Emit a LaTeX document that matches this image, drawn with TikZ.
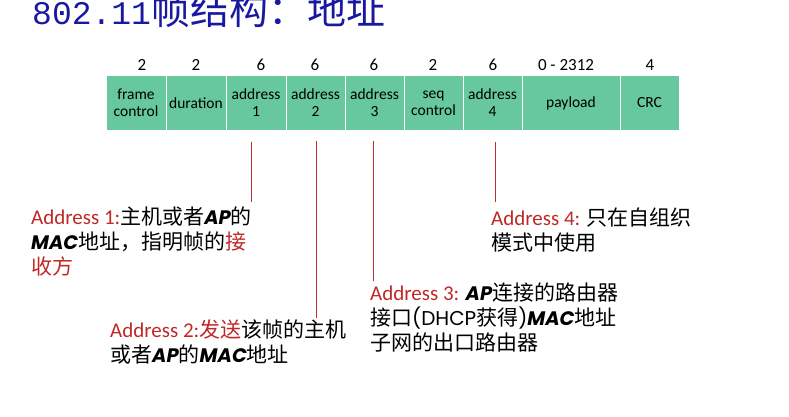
\documentclass[tikz,border=0pt]{standalone}
\usepackage{fontspec}
\setmainfont{Carlito}
\newfontfamily\cjk{Noto Sans CJK SC}
\newfontfamily\cjktitle{Noto Sans CJK SC}
\newfontfamily\titlemono{Liberation Mono}
\newfontfamily\geo{Poppins}
\definecolor{cellgreen}{RGB}{102,200,156}
\definecolor{labred}{RGB}{192,40,40}
\definecolor{linered}{RGB}{190,45,45}
\definecolor{titleblue}{RGB}{25,25,160}
\newcommand\zh[1]{{\cjk #1}}
\newcommand\rd[1]{{\color{labred}#1}}
\newcommand\bi[1]{{\fontsize{19.5}{25}\selectfont\geo\bfseries\itshape #1}}
\newcommand\gs[1]{{\fontsize{20}{25}\selectfont\geo #1}}
\newcommand\lines[1]{\vtop{\halign{##\hfil\cr#1\crcr}}}
\tikzset{
  x=1pt, y=-1pt,
  cell/.style={draw=white, line width=1pt, fill=cellgreen, minimum height=54pt,
    inner sep=0pt, align=center, font=\fontsize{15.5}{17}\selectfont},
  num/.style={anchor=base, inner sep=0pt, font=\fontsize{17}{17}\selectfont},
  conn/.style={draw=linered, line width=1pt},
  lbl/.style={anchor=base west, inner sep=0pt,
    font=\fontsize{21}{25}\selectfont},
}
\begin{document}
\begin{tikzpicture}
\useasboundingbox (0,0) rectangle (789,417);
% title
\node[anchor=base west, inner sep=0pt, text=titleblue] (title) at (32,25)
  {\fontsize{33}{40}\selectfont\titlemono 802.11\fontsize{39}{40}\selectfont\cjktitle 帧结构：地址};
% cells
\node[cell, minimum width=60pt] (c1) at (136,103) {frame\\control};
\node[cell, minimum width=60pt] (c2) at (196,103) {duration};
\node[cell, minimum width=60pt] (c3) at (256,103) {address\\1};
\node[cell, minimum width=59pt] (c4) at (315.5,103) {address\\2};
\node[cell, minimum width=59pt] (c5) at (374.5,103) {address\\3};
\node[cell, minimum width=59pt] (c6) at (433.5,103) {seq\\control};
\node[cell, minimum width=59pt] (c7) at (492.5,103) {address\\4};
\node[cell, minimum width=98pt] (c8) at (571,103) {payload};
\node[cell, minimum width=59pt] (c9) at (649.5,103) {CRC};
% sizes
\node[num] (n1) at (142,70.5) {2};
\node[num] (n2) at (196,70.5) {2};
\node[num] (n3) at (261,70.5) {6};
\node[num] (n4) at (315,70.5) {6};
\node[num] (n5) at (374,70.5) {6};
\node[num] (n6) at (433,70.5) {2};
\node[num] (n7) at (493,70.5) {6};
\node[num] (n8) at (566,70.5) {0 - 2312};
\node[num] (n9) at (650,70.5) {4};
% connectors
\coordinate (l1a) at (251.5,141.5); \coordinate (l1b) at (251.5,201.5);
\coordinate (l2a) at (316,141);     \coordinate (l2b) at (316,317.5);
\coordinate (l3a) at (373.5,140.5); \coordinate (l3b) at (373.5,280.5);
\coordinate (l4a) at (495,142);     \coordinate (l4b) at (495,202);
\draw[conn] (l1a) -- (l1b);
\draw[conn] (l2a) -- (l2b);
\draw[conn] (l3a) -- (l3b);
\draw[conn] (l4a) -- (l4b);
% labels
\node[lbl] (a1) at (31,224) {\lines{\rd{Address 1:}\zh{主机或者}\bi{AP}\zh{的}\cr
  \bi{MAC}\zh{地址，指明帧的}\rd{\zh{接}}\cr
  \rd{\zh{收方}}}};
\node[lbl] (a2) at (110,337) {\lines{\rd{Address 2:\zh{发送}}\zh{该帧的主机}\cr
  \zh{或者}\bi{AP}\zh{的}\bi{MAC}\zh{地址}}};
\node[lbl] (a3) at (370,300) {\lines{\rd{Address 3:} \bi{AP}\zh{连接的路由器}\cr
  \zh{接口}\gs{(DHCP}\zh{获得}\gs{)}\bi{MAC}\zh{地址}\cr
  \zh{子网的出口路由器}}};
\node[lbl] (a4) at (491,225) {\lines{\rd{Address 4:} \zh{只在自组织}\cr
  \zh{模式中使用}}};
\end{tikzpicture}
\end{document}
